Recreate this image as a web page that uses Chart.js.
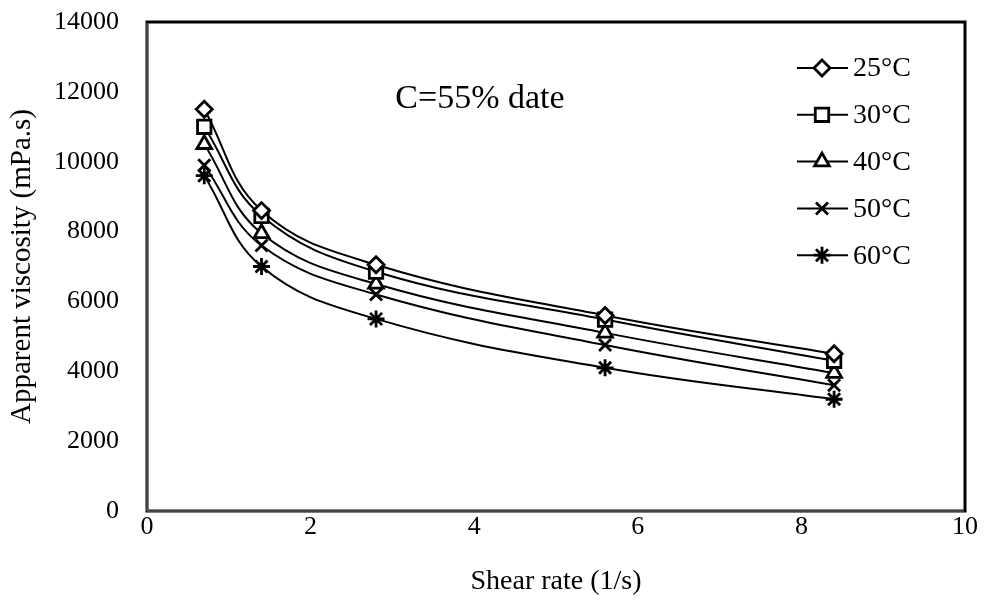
<!DOCTYPE html>
<html>
<head>
<meta charset="utf-8">
<script src="https://cdn.jsdelivr.net/npm/chart.js@4/dist/chart.umd.min.js"></script>
<style>
  html, body { margin: 0; padding: 0; background: #fff; }
  canvas { display: block; }
</style>
</head>
<body>
<canvas id="chart" width="984" height="603"></canvas>
<script>
// Data
const shearRate = [0.7, 1.4, 2.8, 5.6, 8.4];
const temps = ['25°C', '30°C', '40°C', '50°C', '60°C'];
const visc25 = [11500, 8600, 7050, 5600, 4500];
const visc30 = [11000, 8450, 6850, 5480, 4300];
const visc40 = [10500, 7950, 6500, 5100, 3950];
const visc50 = [9900, 7600, 6200, 4750, 3600];
const visc60 = [9600, 7000, 5500, 4100, 3200];
const xTicks = [0, 2, 4, 6, 8, 10];
const yTicks = [0, 2000, 4000, 6000, 8000, 10000, 12000, 14000];

const FONT = "'Liberation Serif', 'Times New Roman', serif";
const markers = ['rectRot', 'rect', 'triangle', 'crossRot', 'star'];
const markerSize = [8, 9.5, 8.5, 8.5, 8.5];
const series = [visc25, visc30, visc40, visc50, visc60];

const datasets = series.map((vals, i) => ({
    label: temps[i],
    data: vals.map((v, j) => ({ x: shearRate[j], y: v })),
    showLine: true,
    borderColor: '#000',
    borderWidth: 2,
    tension: 0.4,
    pointStyle: markers[i],
    pointRadius: markerSize[i],
    pointBorderWidth: 2.8,
    pointBorderColor: '#000',
    pointBackgroundColor: '#fff'
}));

// Frame around the plot area
const framePlugin = {
    id: 'frame',
    afterDraw(chart) {
        const { ctx, chartArea: a } = chart;
        ctx.save();
        ctx.strokeStyle = '#000';
        ctx.lineWidth = 3;
        ctx.strokeRect(a.left, a.top, a.right - a.left, a.bottom - a.top);
        // grey inner stripe on left and bottom edges
        ctx.strokeStyle = '#888';
        ctx.lineWidth = 1;
        ctx.beginPath();
        ctx.moveTo(a.left, a.top + 1);
        ctx.lineTo(a.left, a.bottom);
        ctx.lineTo(a.right - 1, a.bottom);
        ctx.stroke();
        ctx.restore();
    }
};

// Annotation text and legend drawn inside the plot
const legendPlugin = {
    id: 'insideLegend',
    afterDatasetsDraw(chart) {
        const { ctx } = chart;
        ctx.save();
        ctx.fillStyle = '#000';
        ctx.font = '34px ' + FONT;
        ctx.textAlign = 'center';
        ctx.textBaseline = 'middle';
        ctx.fillText('C=55% date', 480, 99);

        ctx.font = '28px ' + FONT;
        ctx.textAlign = 'left';
        temps.forEach((t, i) => {
            const y = 68 + i * 46.8;
            ctx.strokeStyle = '#000';
            ctx.lineWidth = 2;
            ctx.beginPath();
            ctx.moveTo(797, y);
            ctx.lineTo(848, y);
            ctx.stroke();
            const ds = chart.data.datasets[i];
            ctx.lineWidth = 2.8;
            ctx.fillStyle = '#fff';
            Chart.helpers.drawPoint(ctx, {
                pointStyle: ds.pointStyle,
                radius: ds.pointRadius,
                rotation: 0,
                borderWidth: 2.8
            }, 822, y);
            ctx.fillStyle = '#000';
            ctx.fillText(t, 853, y + 1);
        });
        ctx.restore();
    }
};

new Chart(document.getElementById('chart'), {
    type: 'scatter',
    data: { datasets },
    options: {
        responsive: false,
        animation: false,
        layout: { padding: { top: 22, right: 19, left: 0, bottom: 0 } },
        plugins: {
            legend: { display: false },
            tooltip: { enabled: false }
        },
        scales: {
            x: {
                type: 'linear',
                min: 0,
                max: 10,
                afterBuildTicks: (scale) => { scale.ticks = xTicks.map(v => ({ value: v })); },
                afterFit: (scale) => {
                    scale.height = 92;
                    scale.paddingLeft = 0;
                    scale.paddingRight = 0;
                },
                grid: { display: false, drawTicks: false },
                border: { display: false },
                ticks: {
                    color: '#000',
                    padding: 1,
                    maxRotation: 0,
                    callback: (v) => String(v),
                    font: { family: FONT, size: 26 }
                },
                title: {
                    display: true,
                    text: 'Shear rate (1/s)',
                    color: '#000',
                    font: { family: FONT, size: 28 },
                    padding: { top: 0, bottom: 5 }
                }
            },
            y: {
                type: 'linear',
                min: 0,
                max: 14000,
                afterBuildTicks: (scale) => { scale.ticks = yTicks.map(v => ({ value: v })); },
                afterFit: (scale) => {
                    scale.width = 147;
                    scale.paddingTop = 0;
                    scale.paddingBottom = 0;
                },
                grid: { display: false, drawTicks: false },
                border: { display: false },
                ticks: {
                    color: '#000',
                    padding: 28,
                    callback: (v) => String(v),
                    font: { family: FONT, size: 26 }
                },
                title: {
                    display: true,
                    text: 'Apparent viscosity (mPa.s)',
                    color: '#000',
                    font: { family: FONT, size: 29 },
                    padding: { top: 5, bottom: 0 }
                }
            }
        }
    },
    plugins: [framePlugin, legendPlugin]
});
</script>
</body>
</html>
